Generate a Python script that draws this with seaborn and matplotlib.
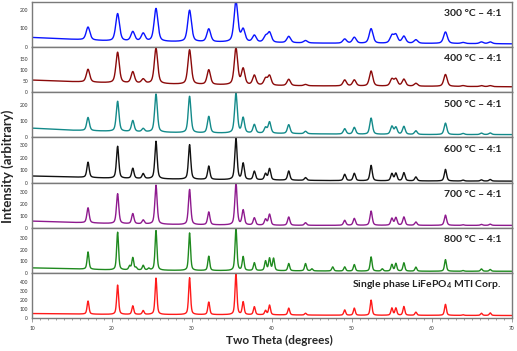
import numpy as np
import pandas as pd
import matplotlib
matplotlib.use("Agg")
import matplotlib.pyplot as plt
import seaborn as sns

# peak positions (two theta, degrees)
peak_pos = [17.0, 20.7, 22.2, 22.6, 23.0, 23.9, 24.6, 25.5, 29.7, 32.1,
            35.5, 36.4, 37.8, 39.2, 39.7, 40.2, 42.1, 44.2, 45.0, 47.6,
            49.1, 50.3, 52.4, 53.8, 55.0, 55.5, 56.5, 58.0, 61.7, 63.9,
            66.2, 67.3]

# peak tops (counts, incl. background) per sample, 0 = no peak
h_300 = [107, 178, 0, 81, 0, 72, 0, 205, 196, 96,
         243, 91, 61, 55, 76, 0, 57, 35, 0, 0,
         43, 52, 98, 0, 60, 63, 57, 39, 81, 25,
         28, 28]
h_400 = [103, 179, 0, 91, 0, 58, 0, 197, 190, 100,
         197, 103, 75, 60, 73, 0, 58, 35, 0, 0,
         55, 55, 95, 0, 58, 58, 58, 40, 80, 30,
         30, 30]
h_500 = [124, 224, 0, 104, 0, 54, 0, 269, 255, 130,
         272, 120, 79, 60, 95, 0, 79, 38, 0, 0,
         54, 62, 120, 0, 68, 62, 68, 41, 89, 25,
         27, 28]
h_600 = [164, 291, 0, 114, 0, 71, 0, 331, 304, 132,
         355, 153, 90, 70, 111, 0, 93, 40, 0, 0,
         66, 74, 138, 0, 71, 74, 79, 45, 106, 20,
         22, 25]
h_700 = [168, 286, 0, 118, 0, 64, 0, 358, 322, 132,
         378, 146, 82, 70, 112, 0, 90, 42, 0, 0,
         62, 78, 140, 0, 78, 84, 90, 48, 106, 25,
         28, 30]
h_800 = [180, 349, 57, 129, 43, 63, 37, 363, 343, 143,
         386, 137, 86, 100, 123, 123, 80, 80, 34, 51,
         51, 71, 137, 34, 71, 80, 86, 49, 114, 20,
         34, 29]
h_mti = [190, 368, 0, 135, 0, 82, 0, 446, 450, 178,
         493, 178, 125, 82, 143, 0, 110, 53, 0, 0,
         90, 110, 200, 0, 110, 110, 128, 65, 153, 36,
         53, 57]

# background level read at these angles
bg_pos = [10, 15, 20, 30, 40, 50, 60, 70]
bg_300 = [52, 42, 32, 28, 24, 20, 20, 18]
bg_400 = [55, 48, 42, 35, 30, 28, 27, 25]
bg_500 = [58, 45, 38, 28, 25, 20, 18, 18]
bg_600 = [53, 45, 35, 26, 20, 15, 13, 12]
bg_700 = [56, 45, 35, 25, 20, 20, 20, 20]
bg_800 = [43, 35, 25, 20, 18, 15, 14, 14]
bg_mti = [50, 45, 40, 38, 35, 30, 30, 28]

# half widths at half maximum (degrees)
hw = [0.28, 0.25, 0.2, 0.17, 0.17, 0.14, 0.14]

labels = ["300 °C – 4:1", "400 °C – 4:1", "500 °C – 4:1", "600 °C – 4:1",
          "700 °C – 4:1", "800 °C – 4:1",
          r"Single phase LiFePO$_\mathbf{4}$ MTI Corp."]
colors = ["#0a14ff", "#8b0a0a", "#138a8a", "#111111", "#8e1a8e",
          "#1f8a1f", "#ff1a1a"]
heights = [h_300, h_400, h_500, h_600, h_700, h_800, h_mti]
backgrounds = [bg_300, bg_400, bg_500, bg_600, bg_700, bg_800, bg_mti]
ylims = [240, 202, 280, 362, 380, 388, 505]
yticks = [[0, 100, 200], [0, 50, 100, 150], [0, 100, 200],
          [0, 100, 200, 300], [0, 100, 200, 300], [0, 100, 200, 300],
          [0, 100, 200, 300, 400]]

two_theta = np.arange(10, 70.001, 0.02)


def pattern(tops, bg, w):
    # pseudo-Voigt peaks on the read background
    base = np.interp(two_theta, bg_pos, bg)
    y = base.copy()
    for c, t in zip(peak_pos, tops):
        if t <= 0:
            continue
        amp = t - np.interp(c, bg_pos, bg)
        d = (two_theta - c) / w
        y += amp * (0.5 / (1 + d ** 2) + 0.5 * np.exp(-np.log(2) * d ** 2))
    return y


sns.set_style("white")
plt.rcParams['font.family'] = ['Lato', 'DejaVu Sans']
plt.rcParams['mathtext.fontset'] = 'custom'
plt.rcParams['mathtext.bf'] = 'Lato:bold'
plt.rcParams['mathtext.rm'] = 'Lato'

fig, axes = plt.subplots(7, 1, figsize=(5.17, 3.51), dpi=100, sharex=True)
fig.subplots_adjust(left=0.062, right=0.99, top=0.994, bottom=0.094, hspace=0)

for i, ax in enumerate(axes):
    df = pd.DataFrame({'two_theta': two_theta,
                       'intensity': pattern(heights[i], backgrounds[i], hw[i])})
    sns.lineplot(data=df, x='two_theta', y='intensity', ax=ax,
                 color=colors[i], linewidth=1.0, estimator=None)
    ax.set_xlim(10, 70)
    ax.set_ylim(0, ylims[i])
    ax.set_yticks(yticks[i])
    ax.set_xlabel("")
    ax.set_ylabel("")
    for s in ax.spines.values():
        s.set_color('#7a7a7a')
        s.set_linewidth(1.0)
    ax.tick_params(axis='y', direction='out', length=2, width=0.5,
                   labelsize=3.5, colors='#7a7a7a', labelcolor='#333333', pad=1)
    ax.tick_params(axis='x', bottom=False, labelbottom=False)
    ax.text(68.75, 0.74, labels[i], transform=ax.get_xaxis_transform(),
            ha='right', va='center', fontsize=7.5, fontweight='bold',
            color='#222222')

bottom = axes[-1]
bottom.set_xticks([10, 20, 30, 40, 50, 60, 70])
bottom.set_xticks(np.arange(10, 71, 1), minor=True)
bottom.tick_params(axis='x', which='major', bottom=True, labelbottom=True,
                   direction='out', length=3, width=0.5, labelsize=3.5,
                   colors='#7a7a7a', labelcolor='#333333', pad=3)
bottom.tick_params(axis='x', which='minor', bottom=True, direction='out',
                   length=1.5, width=0.5, colors='#7a7a7a')

fig.text(0.54, 0.03, "Two Theta (degrees)", ha='center', va='center',
         fontsize=8.5, fontweight='bold')
fig.text(0.014, 0.525, "Intensity (arbitrary)", ha='center', va='center',
         rotation=90, fontsize=9.5, fontweight='bold')

fig.savefig("out.png", dpi=100)
